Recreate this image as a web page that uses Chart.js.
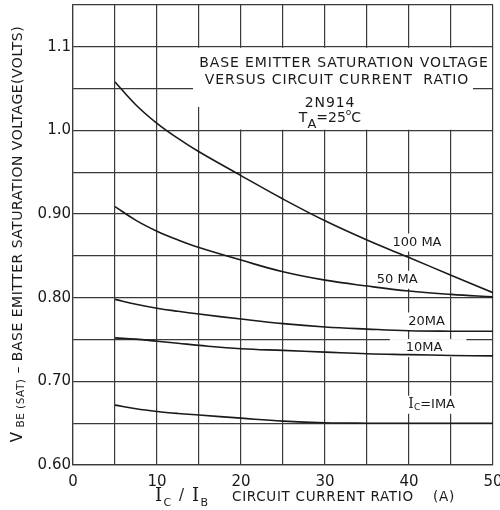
<!DOCTYPE html>
<html>
<head>
<meta charset="utf-8">
<script src="https://cdn.jsdelivr.net/npm/chart.js@4.4.1/dist/chart.umd.min.js"></script>
<style>
    body { margin: 0; background: #fff; }
    #wrap { width: 500px; height: 510px; }
</style>
</head>
<body>
<div id="wrap"><canvas id="vbeChart" width="500" height="510"></canvas></div>
<script>
// values (2N914, TA = 25C)
const icRatio = [5, 7.5, 10, 12.5, 15, 20, 25, 30, 35, 40, 45, 50];
const vbe100mA = [1.058, 1.0305, 1.0085, 0.9905, 0.9745, 0.946, 0.918, 0.892, 0.869, 0.848, 0.827, 0.806];
const vbe50mA = [0.909, 0.8925, 0.8795, 0.869, 0.860, 0.845, 0.831, 0.821, 0.814, 0.808, 0.804, 0.801];
const vbe20mA = [0.798, 0.7923, 0.7875, 0.7838, 0.7805, 0.7745, 0.769, 0.765, 0.7625, 0.7605, 0.760, 0.760];
const vbe10mA = [0.752, 0.7505, 0.748, 0.7456, 0.743, 0.739, 0.737, 0.735, 0.733, 0.732, 0.731, 0.7305];
const vbe1mA = [0.6716, 0.6672, 0.664, 0.6616, 0.6597, 0.656, 0.6525, 0.6505, 0.650, 0.650, 0.650, 0.650];

const xTicks = [0, 5, 10, 15, 20, 25, 30, 35, 40, 45, 50];
const xTickLabels = ['0', '', '10', '', '20', '', '30', '', '40', '', '50'];
const yTicks = [0.60, 0.65, 0.70, 0.75, 0.80, 0.85, 0.90, 0.95, 1.00, 1.05, 1.10, 1.15];
const yTickLabels = ['0.60', '', '0.70', '', '0.80', '', '0.90', '', '1.0', '', '1.1', ''];

const INK = '#1a1a1a';
const GRID = '#3a3a3a';
const SANS = '"DejaVu Sans", sans-serif';
const SERIF = '"DejaVu Serif", serif';

function toPoints(ys) {
    return icRatio.map((x, i) => ({x: x, y: ys[i]}));
}

function curve(label, ys) {
    return {
        label: label,
        data: toPoints(ys),
        borderColor: INK,
        borderWidth: 1.6,
        pointRadius: 0,
        fill: false,
        tension: 0.4
    };
}

// draws a run of text pieces left to right, each with its own font and baseline shift
function drawParts(ctx, x, y, parts) {
    let cx = x;
    parts.forEach(p => {
        ctx.font = p.font;
        ctx.fillText(p.t, cx, y + (p.dy || 0));
        cx += ctx.measureText(p.t).width;
    });
    return cx;
}

function partsWidth(ctx, parts) {
    let w = 0;
    parts.forEach(p => {
        ctx.font = p.font;
        w += ctx.measureText(p.t).width;
    });
    return w;
}

const curveLabels = [
    {x: 40.95, y: 0.866, padL: 3, padR: 3, parts: [{t: '100 MA', font: '13px ' + SANS}]},
    {x: 38.6, y: 0.8215, padL: 3, padR: 3, parts: [{t: '50 MA', font: '13px ' + SANS}]},
    {x: 42.1, y: 0.7716, padL: 3, padR: 3, parts: [{t: '20MA', font: '13px ' + SANS}]},
    {x: 41.8, y: 0.7398, padL: 16, padR: 24, parts: [{t: '10MA', font: '13px ' + SANS}]},
    {x: 42.7, y: 0.672, padL: 3, padR: 3, parts: [
        {t: 'I', font: '14px ' + SERIF},
        {t: 'C', font: '9px ' + SANS, dy: 3},
        {t: '=IMA', font: '13px ' + SANS}
    ]}
];

const sheetText = {
    id: 'sheetText',
    beforeDatasetsDraw(chart) {
        const ctx = chart.ctx;
        const xs = chart.scales.x;
        const ys = chart.scales.y;
        ctx.save();

        // title panel blanks out the grid
        const px = v => xs.getPixelForValue(v);
        const py = v => ys.getPixelForValue(v);
        ctx.fillStyle = '#fff';
        ctx.fillRect(193, py(1.10) + 1, 280, py(1.028) - py(1.10) - 1);
        ctx.fillRect(px(15) + 2, py(1.028) - 1, 472 - px(15) - 2, py(1.00) - py(1.028));
        ctx.fillRect(px(20) + 2, py(1.005), 472 - px(20) - 2, py(1.00) - py(1.005) - 1);

        ctx.fillStyle = INK;
        ctx.textBaseline = 'middle';
        ctx.textAlign = 'center';
        ctx.font = '14px ' + SANS;
        ctx.letterSpacing = '0.9px';
        ctx.fillText('BASE EMITTER SATURATION VOLTAGE', 344, 63);
        ctx.fillText('VERSUS CIRCUIT CURRENT  RATIO', 337, 80);
        ctx.fillText('2N914', 330, 103);
        ctx.letterSpacing = '0px';
        ctx.textAlign = 'left';
        const taParts = [
            {t: 'T', font: '14px ' + SANS},
            {t: 'A', font: '13px ' + SANS, dy: 7},
            {t: '=25', font: '14px ' + SANS},
            {t: 'o', font: '9px ' + SANS, dy: -5},
            {t: 'C', font: '14px ' + SANS}
        ];
        drawParts(ctx, 330 - partsWidth(ctx, taParts) / 2, 118, taParts);

        // curve labels with white backing
        curveLabels.forEach(l => {
            const w = partsWidth(ctx, l.parts);
            const cx = px(l.x);
            const cy = py(l.y);
            ctx.fillStyle = '#fff';
            ctx.fillRect(cx - w / 2 - l.padL, cy - 9, w + l.padL + l.padR, 18);
            ctx.fillStyle = INK;
            drawParts(ctx, cx - w / 2, cy, l.parts);
        });

        // x axis title
        ctx.letterSpacing = '1.5px';
        const icib = [
            {t: 'I', font: '18px ' + SERIF},
            {t: 'C', font: '11px ' + SANS, dy: 7},
            {t: ' / ', font: '15px ' + SANS},
            {t: 'I', font: '18px ' + SERIF},
            {t: 'B', font: '11px ' + SANS, dy: 7}
        ];
        drawParts(ctx, 155, 496, icib);
        ctx.font = '13.5px ' + SANS;
        ctx.letterSpacing = '0.7px';
        ctx.fillText('CIRCUIT CURRENT RATIO', 232, 497);
        ctx.fillText('(A)', 433, 497);

        // y axis title, rotated
        ctx.letterSpacing = '0.5px';
        const vParts = [
            {t: 'V', font: '15px ' + SANS},
            {t: ' BE (SAT)', font: '10.5px ' + SANS, dy: 3},
            {t: ' \u2013 BASE EMITTER SATURATION VOLTAGE(VOLTS)', font: '14px ' + SANS}
        ];
        ctx.translate(18, 234);
        ctx.rotate(-Math.PI / 2);
        drawParts(ctx, -partsWidth(ctx, vParts) / 2, 0, vParts);
        ctx.letterSpacing = '0px';

        ctx.restore();
    }
};

const ctx = document.getElementById('vbeChart').getContext('2d');
const vbeChart = new Chart(ctx, {
    type: 'line',
    data: {
        datasets: [
            curve('100 MA', vbe100mA),
            curve('50 MA', vbe50mA),
            curve('20 MA', vbe20mA),
            curve('10 MA', vbe10mA),
            curve('1 MA', vbe1mA)
        ]
    },
    options: {
        responsive: false,
        animation: false,
        layout: {padding: {top: 5, right: 7, left: 0, bottom: 0}},
        plugins: {
            legend: {display: false},
            tooltip: {enabled: false}
        },
        scales: {
            x: {
                type: 'linear',
                min: 0,
                max: 50,
                afterBuildTicks: s => { s.ticks = xTicks.map(v => ({value: v})); },
                afterFit: s => { s.height = 45; s.paddingLeft = 0; s.paddingRight = 0; },
                ticks: {
                    callback: (v, i) => xTickLabels[i],
                    color: INK,
                    font: {family: SANS, size: 15},
                    padding: 8,
                    maxRotation: 0,
                    autoSkip: false
                },
                grid: {color: GRID, lineWidth: 1.2, drawTicks: false},
                border: {color: GRID, width: 1.2}
            },
            y: {
                type: 'linear',
                min: 0.60,
                max: 1.15,
                afterBuildTicks: s => { s.ticks = yTicks.map(v => ({value: v})); },
                afterFit: s => { s.width = 73; s.paddingTop = 0; s.paddingBottom = 0; },
                ticks: {
                    callback: (v, i) => yTickLabels[i],
                    color: INK,
                    font: {family: SANS, size: 15},
                    padding: 2,
                    autoSkip: false
                },
                grid: {color: GRID, lineWidth: 1.2, drawTicks: false},
                border: {color: GRID, width: 1.2}
            }
        }
    },
    plugins: [sheetText]
});
</script>
</body>
</html>
